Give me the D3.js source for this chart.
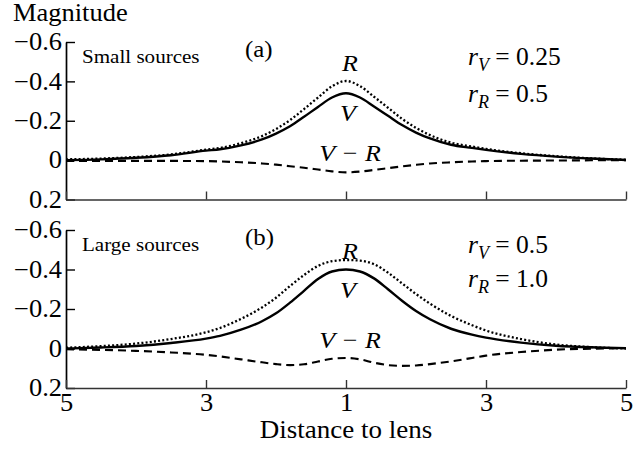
<!DOCTYPE html>
<html>
<head>
<meta charset="utf-8">
<script src="https://cdn.jsdelivr.net/npm/d3@7"></script>
<style>
  body { margin: 0; background: #fff; }
  svg { display: block; }
  text { font-family: "Liberation Serif", "Times New Roman", serif; fill: #000; }
</style>
</head>
<body>
<svg id="chart" width="641" height="451"></svg>
<script>
// Position along the track (lens at 0), the axis shows distance to the lens
const trackPos = [-2, -1.75, -1.5, -1.25, -1, -0.9, -0.75, -0.6, -0.5, -0.4, -0.3, -0.2, -0.1, 0,
                  0.1, 0.2, 0.3, 0.4, 0.5, 0.6, 0.75, 0.9, 1, 1.25, 1.5, 1.75, 2];
const distanceTicks = [-2, -1, 0, 1, 2];
const distanceLabels = ["5", "3", "1", "3", "5"];
const magnitudeTicks = [-0.6, -0.4, -0.2, 0, 0.2];

// (a) small sources
const smallV  = [0.000, -0.004, -0.012, -0.025, -0.048, -0.055, -0.075, -0.105, -0.135, -0.172, -0.220, -0.270, -0.318, -0.340,
                 -0.318, -0.272, -0.225, -0.178, -0.140, -0.110, -0.078, -0.062, -0.052, -0.032, -0.018, -0.008, -0.001];
const smallR  = [-0.004, -0.008, -0.016, -0.029, -0.053, -0.062, -0.086, -0.122, -0.158, -0.203, -0.259, -0.318, -0.375, -0.402,
                 -0.376, -0.322, -0.266, -0.210, -0.164, -0.127, -0.089, -0.069, -0.057, -0.035, -0.020, -0.009, -0.002];
const smallVR = [0.004, 0.004, 0.004, 0.004, 0.005, 0.007, 0.011, 0.017, 0.023, 0.031, 0.039, 0.048, 0.057, 0.062,
                 0.058, 0.050, 0.041, 0.032, 0.024, 0.017, 0.011, 0.007, 0.005, 0.003, 0.002, 0.001, 0.001];

// (b) large sources
const largeV  = [0.000, -0.005, -0.013, -0.028, -0.050, -0.064, -0.095, -0.138, -0.178, -0.232, -0.292, -0.352, -0.390, -0.400,
                 -0.390, -0.355, -0.300, -0.242, -0.190, -0.148, -0.100, -0.070, -0.055, -0.030, -0.014, -0.006, -0.002];
const largeR  = [-0.004, -0.012, -0.025, -0.048, -0.082, -0.104, -0.150, -0.208, -0.257, -0.316, -0.372, -0.418, -0.442, -0.448,
                 -0.445, -0.427, -0.384, -0.330, -0.276, -0.227, -0.165, -0.118, -0.091, -0.048, -0.020, -0.007, 0.000];
const largeVR = [0.004, 0.007, 0.012, 0.020, 0.032, 0.040, 0.055, 0.070, 0.079, 0.084, 0.080, 0.066, 0.052, 0.048,
                 0.055, 0.072, 0.084, 0.088, 0.086, 0.079, 0.065, 0.048, 0.036, 0.018, 0.006, 0.001, -0.002];

const svg = d3.select("#chart");
const STRETCH = 1.08;

// widen serif glyphs a little, keeping the anchor
function widen(sel) {
  sel.each(function () {
    const w = this.getComputedTextLength();
    this.setAttribute("textLength", w * STRETCH);
    this.setAttribute("lengthAdjust", "spacingAndGlyphs");
  });
}

const x = d3.scaleLinear().domain([-2, 2]).range([66, 626]);

const panels = [
  { top: 42, bottom: 199.5, V: smallV, R: smallR, VR: smallVR, name: "Small sources", tag: "(a)",
    rV: "0.25", rR: "0.5", showX: false },
  { top: 230, bottom: 388, V: largeV, R: largeR, VR: largeVR, name: "Large sources", tag: "(b)",
    rV: "0.5", rR: "1.0", showX: true }
];

panels.forEach(p => {
  const y = d3.scaleLinear().domain([-0.6, 0.2]).range([p.top, p.bottom]);
  const g = svg.append("g");

  // y axis, ticks pointing inward
  const ya = g.append("g").attr("transform", `translate(${x.range()[0]},0)`)
    .call(d3.axisLeft(y).tickValues(magnitudeTicks).tickSize(-9).tickSizeOuter(0).tickPadding(4)
      .tickFormat(d => d === 0 ? "0" : d3.format(".1f")(d)));
  ya.select(".domain").attr("stroke", "#000").attr("stroke-width", 1.7);
  ya.selectAll(".tick line").attr("stroke", "#000").attr("stroke-width", 1.4);
  ya.selectAll(".tick text").attr("font-size", 24.5).attr("fill", "#000")
    .attr("font-family", "Liberation Serif, serif").call(widen);

  // x axis along the bottom of the panel
  const xa = g.append("g").attr("transform", `translate(0,${p.bottom})`)
    .call(d3.axisBottom(x).tickValues(distanceTicks).tickSize(-8).tickSizeOuter(0).tickPadding(6)
      .tickFormat((d, i) => p.showX ? distanceLabels[i] : ""));
  xa.select(".domain").attr("stroke", "#333").attr("stroke-width", 1.7);
  xa.selectAll(".tick line").attr("stroke", "#333").attr("stroke-width", 1.4);
  xa.selectAll(".tick text").attr("font-size", 24.5).attr("fill", "#000")
    .attr("font-family", "Liberation Serif, serif").call(widen);

  const line = d3.line().x((d, i) => x(trackPos[i])).y(d => y(d)).curve(d3.curveMonotoneX);

  g.append("path").attr("d", line(p.VR)).attr("fill", "none").attr("stroke", "#000")
    .attr("stroke-width", 2.1).attr("stroke-dasharray", "8,5");
  g.append("path").attr("d", line(p.R)).attr("fill", "none").attr("stroke", "#000")
    .attr("stroke-width", 2.3).attr("stroke-dasharray", "2,2.2");
  g.append("path").attr("d", line(p.V)).attr("fill", "none").attr("stroke", "#000")
    .attr("stroke-width", 2.4);

  // annotations
  const t0 = p.top;
  g.append("text").attr("x", 82).attr("y", t0 + 21).attr("font-size", 19.5).text(p.name).call(widen);
  g.append("text").attr("x", 245).attr("y", t0 + 15).attr("font-size", 23).text(p.tag).call(widen);
  g.append("text").attr("x", 350).attr("y", t0 + 29).attr("text-anchor", "middle")
    .attr("font-size", 24).attr("font-style", "italic").text("R").call(widen);
  g.append("text").attr("x", 348).attr("y", t0 + (p.showX ? 68 : 79)).attr("text-anchor", "middle")
    .attr("font-size", 24).attr("font-style", "italic").text("V").call(widen);
  g.append("text").attr("x", 350).attr("y", t0 + (p.showX ? 118 : 119)).attr("text-anchor", "middle")
    .attr("font-size", 24).attr("font-style", "italic").text("V − R").call(widen);

  const eq1 = g.append("text").attr("x", 468).attr("y", t0 + 23).attr("font-size", 25.5);
  eq1.append("tspan").attr("font-style", "italic").text("r");
  eq1.append("tspan").attr("font-style", "italic").attr("font-size", 18).attr("dy", 6).text("V");
  eq1.append("tspan").attr("dy", -6).text(" = " + p.rV);
  const eq2 = g.append("text").attr("x", 468).attr("y", t0 + (p.showX ? 57 : 60)).attr("font-size", 25.5);
  eq2.append("tspan").attr("font-style", "italic").text("r");
  eq2.append("tspan").attr("font-style", "italic").attr("font-size", 18).attr("dy", 6).text("R");
  eq2.append("tspan").attr("dy", -6).text(" = " + p.rR);
});

svg.append("text").attr("x", 13).attr("y", 21).attr("font-size", 24.5).text("Magnitude").call(widen);
svg.append("text").attr("x", 346).attr("y", 438).attr("text-anchor", "middle").attr("font-size", 25)
  .text("Distance to lens").call(widen);
</script>
</body>
</html>
